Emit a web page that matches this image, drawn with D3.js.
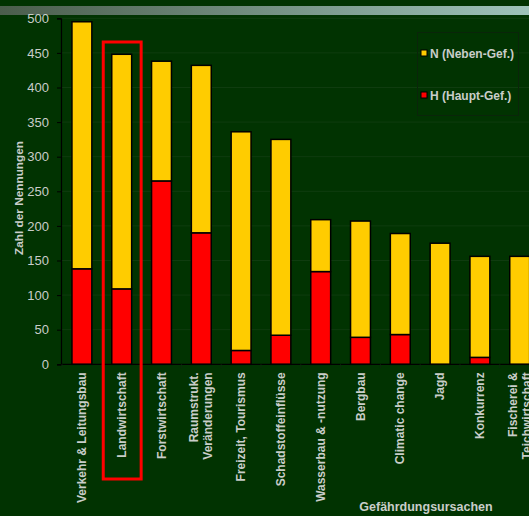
<!DOCTYPE html>
<html><head><meta charset="utf-8">
<script src="https://cdn.jsdelivr.net/npm/d3@7/dist/d3.min.js"></script>
<style>
html,body{margin:0;padding:0;background:#013301;}
svg{display:block;}
text{font-family:"Liberation Sans",Arial,sans-serif;}
</style></head>
<body>
<svg id="c" width="529" height="516"></svg>
<script>
const categories = [
  ["Verkehr & Leitungsbau"],
  ["Landwirtschaft"],
  ["Forstwirtschaft"],
  ["Raumstrukt.", "Veränderungen"],
  ["Freizeit, Tourismus"],
  ["Schadstoffeinflüsse"],
  ["Wasserbau & -nutzung"],
  ["Bergbau"],
  ["Climatic change"],
  ["Jagd"],
  ["Konkurrenz"],
  ["Fischerei &", "Teichwirtschaft"]
];
const hauptValues = [138, 109, 265, 190, 20, 42, 134, 39, 43, 0, 10, 0];
const nebenValues = [357, 339, 173, 242, 316, 283, 75, 168, 146, 175, 146, 156];
const yTicks = [0, 50, 100, 150, 200, 250, 300, 350, 400, 450, 500];
const seriesNames = ["N (Neben-Gef.)", "H (Haupt-Gef.)"];
const colors = {H: "#ff0000", N: "#ffcc00"};
const highlighted = "Landwirtschaft";

const svg = d3.select("#c");
const W = 529, H = 516;

// top gradient band
const defs = svg.append("defs");
const g = defs.append("linearGradient").attr("id","band").attr("x1","0").attr("x2","1");
g.append("stop").attr("offset","0").attr("stop-color","#4b5d4c");
g.append("stop").attr("offset","1").attr("stop-color","#9ec3ba");
svg.append("rect").attr("x",0).attr("y",0).attr("width",W).attr("height",H).attr("fill","#013301");
svg.append("rect").attr("x",0).attr("y",6).attr("width",W).attr("height",9).attr("fill","url(#band)");

const keys = categories.map(c => c.join(" "));
const x = d3.scaleBand().domain(keys).range([62, 62 + 39.8*12]).paddingInner(0.5).paddingOuter(0.25);
const y = d3.scaleLinear().domain([0, 500]).range([364.3, 18.3]);
const x0 = 61;

// gridlines
svg.append("g").selectAll("line").data(yTicks.filter(d=>d>0)).join("line")
  .attr("x1", x0).attr("x2", W).attr("y1", d=>y(d)).attr("y2", d=>y(d))
  .attr("stroke", "#0f3c0f").attr("stroke-width", 1);

// y axis
const yAxis = svg.append("g").attr("transform", `translate(${x0},0)`)
  .call(d3.axisLeft(y).tickValues(yTicks).tickSize(4).tickPadding(8));
yAxis.select(".domain").attr("stroke","#000").attr("stroke-width",1.2);
yAxis.selectAll(".tick line").attr("stroke","#000");
yAxis.selectAll(".tick text").attr("fill","#c9cdc9").style("font-size","13px").style("font-family","'Liberation Sans',Arial,sans-serif");

// stacked bars
const stackData = keys.map((k,i)=>({key:k, H:hauptValues[i], N:nebenValues[i]}));
const stack = d3.stack().keys(["H","N"])(stackData);
svg.append("g").selectAll("g").data(stack).join("g")
  .attr("fill", s => colors[s.key])
  .selectAll("rect").data(s => s.filter(d => d[1]-d[0] > 0)).join("rect")
  .attr("x", d => x(d.data.key))
  .attr("width", x.bandwidth())
  .attr("y", d => y(d[1]))
  .attr("height", d => y(d[0]) - y(d[1]))
  .attr("stroke", "#000").attr("stroke-width", 1.5);

// x axis
const xAxis = svg.append("g").attr("transform", `translate(0,${y(0)})`);
xAxis.append("line").attr("x1", x0).attr("x2", W).attr("y1",0).attr("y2",0).attr("stroke","#000").attr("stroke-width",1.2);
const step = x.step();
xAxis.selectAll("line.t").data(d3.range(0, 13)).join("line").attr("class","t")
  .attr("x1", i => 62 + i*step).attr("x2", i => 62 + i*step)
  .attr("y1", 0).attr("y2", 4).attr("stroke", "#0c2a0c");

// category labels
categories.forEach((lines, i) => {
  const cx = x(keys[i]) + x.bandwidth()/2;
  const n = lines.length;
  lines.forEach((t, j) => {
    const off = (j - (n-1)/2) * 14;
    svg.append("text")
      .attr("transform", `translate(${cx + off + 4},${y(0) + 8}) rotate(-90)`)
      .attr("text-anchor", "end")
      .attr("fill", "#c9cdc9")
      .style("font-size", "12px").style("font-weight", "bold")
      .text(t);
  });
});

// highlight box
const hx = x(highlighted);
svg.append("rect")
  .attr("x", hx - 8.5).attr("y", 42)
  .attr("width", x.bandwidth() + 18).attr("height", 437)
  .attr("fill", "none").attr("stroke", "#ff0000").attr("stroke-width", 3);

// axis titles
svg.append("text")
  .attr("transform", `translate(22.5,198) rotate(-90)`)
  .attr("text-anchor","middle").attr("fill","#c9cdc9")
  .style("font-size","11.8px").style("font-weight","bold")
  .text("Zahl der Nennungen");
svg.append("text")
  .attr("x", 426).attr("y", 510.5)
  .attr("text-anchor","middle").attr("fill","#c9cdc9")
  .style("font-size","12.5px").style("font-weight","bold")
  .text("Gefährdungsursachen");

// legend
const lg = svg.append("g");
lg.append("rect").attr("x",417.5).attr("y",32.5).attr("width",101).attr("height",83)
  .attr("fill","none").attr("stroke","#0a250a").attr("stroke-width",1);
const leg = [{name: seriesNames[0], c: colors.N, y: 53}, {name: seriesNames[1], c: colors.H, y: 95}];
leg.forEach(d => {
  lg.append("rect").attr("x",421).attr("y",d.y-3).attr("width",6).attr("height",6)
    .attr("fill",d.c).attr("stroke","#000").attr("stroke-width",1);
  lg.append("text").attr("x",430).attr("y",d.y+4.5).attr("fill","#c9cdc9")
    .style("font-size","12px").style("font-weight","bold").text(d.name);
});
</script>
</body></html>
